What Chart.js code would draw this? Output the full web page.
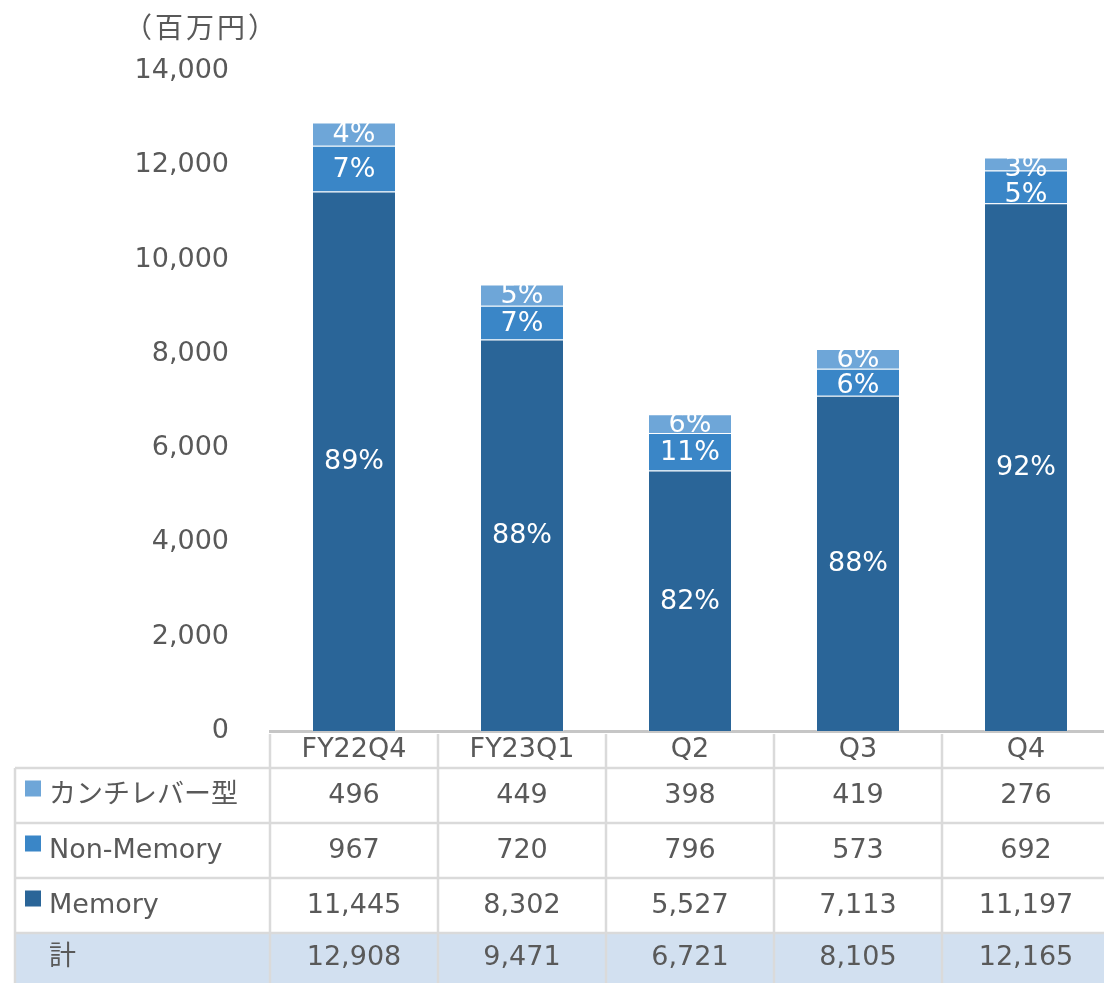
<!DOCTYPE html>
<html>
<head>
<meta charset="utf-8">
<script src="https://cdn.jsdelivr.net/npm/chart.js@4"></script>
<style>
  html, body { margin: 0; padding: 0; background: #fff; overflow: hidden; }
  #wrap { width: 1104px; height: 983px; overflow: hidden; }
</style>
</head>
<body>
<div id="wrap"><canvas id="salesChart" width="1112" height="983"></canvas></div>
<script>
// chart data
const categories = ['FY22Q4', 'FY23Q1', 'Q2', 'Q3', 'Q4'];
const memory = [11445, 8302, 5527, 7113, 11197];
const nonMemory = [967, 720, 796, 573, 692];
const cantilever = [496, 449, 398, 419, 276];
const totals = [12908, 9471, 6721, 8105, 12165];

// share labels printed inside the bars
const memoryPct = [89, 88, 82, 88, 92];
const nonMemoryPct = [7, 7, 11, 6, 5];
const cantileverPct = [4, 5, 6, 6, 3];

const seriesNames = ['カンチレバー型', 'Non-Memory', 'Memory'];
const totalName = '計';
const unitLabel = '（百万円）';
const yMax = 14000;
const yStep = 2000;

const FONT = '"DejaVu Sans", "Noto Sans CJK JP", sans-serif';
const TEXT = '#595959';
const C_MEM = '#2a6598';
const C_NON = '#3a86c7';
const C_CAN = '#6ea6d8';

/**
 * Draws the percentage labels in the middle of each bar segment.
 * Goes from the top segment down; a label is kept inside its segment's
 * top edge, and one that would hit the label above is pushed down.
 */
const segmentLabels = {
    id: 'segmentLabels',
    afterDatasetsDraw(chart) {
        const ctx = chart.ctx;
        ctx.save();
        ctx.font = '27px ' + FONT;
        ctx.fillStyle = '#ffffff';
        ctx.textAlign = 'center';
        ctx.textBaseline = 'middle';
        const prevY = [];
        for (let di = chart.data.datasets.length - 1; di >= 0; di--) {
            const ds = chart.data.datasets[di];
            const meta = chart.getDatasetMeta(di);
            meta.data.forEach((bar, i) => {
                let y = Math.max((bar.y + bar.base) / 2 + 1, bar.y + 11);
                if (prevY[i] !== undefined && y - prevY[i] < 26) {
                    y = prevY[i] + 26;
                }
                prevY[i] = y;
                ctx.fillText(ds.pct[i] + '%', bar.x, y);
            });
        }
        ctx.restore();
    }
};

/**
 * Draws the unit label and the data table under the x axis.
 */
const dataTable = {
    id: 'dataTable',
    afterDraw(chart) {
        const ctx = chart.ctx;
        const xs = chart.scales.x;
        const area = chart.chartArea;
        const colW = xs.getPixelForValue(1) - xs.getPixelForValue(0);
        const tableLeft = 15;
        const colLeft = xs.getPixelForValue(0) - colW / 2;
        const right = chart.width;
        const headTop = area.bottom + 3;
        const rowTop = area.bottom + 37;
        const rowH = 55;
        const bottom = chart.height;

        ctx.save();

        // unit label
        ctx.font = '28px "Noto Sans CJK JP", sans-serif';
        ctx.letterSpacing = '3px';
        ctx.fillStyle = TEXT;
        ctx.textAlign = 'left';
        ctx.textBaseline = 'middle';
        ctx.fillText(unitLabel, 124, 27);
        ctx.letterSpacing = '0px';

        // total row background
        ctx.fillStyle = '#d2e0f0';
        ctx.fillRect(tableLeft, rowTop + rowH * 3, right - tableLeft, bottom - rowTop - rowH * 3);

        // grid lines
        ctx.strokeStyle = '#dadada';
        ctx.lineWidth = 2.5;
        ctx.beginPath();
        for (let r = 0; r < 4; r++) {
            const y = rowTop + rowH * r;
            ctx.moveTo(tableLeft, y);
            ctx.lineTo(right, y);
        }
        ctx.moveTo(tableLeft, rowTop);
        ctx.lineTo(tableLeft, bottom);
        for (let c = 0; c <= categories.length; c++) {
            const x = colLeft + colW * c;
            ctx.moveTo(x, headTop);
            ctx.lineTo(x, bottom);
        }
        ctx.stroke();

        // row labels with colour keys
        const rows = [
            { name: seriesNames[0], color: C_CAN, values: cantilever },
            { name: seriesNames[1], color: C_NON, values: nonMemory },
            { name: seriesNames[2], color: C_MEM, values: memory },
            { name: totalName, color: null, values: totals }
        ];
        rows.forEach((row, r) => {
            const top = rowTop + rowH * r;
            const h = r === 3 ? bottom - top : rowH;
            const cy = top + h / 2;
            if (row.color) {
                ctx.fillStyle = row.color;
                ctx.fillRect(25, cy - 15, 16, 16);
            }
            ctx.fillStyle = TEXT;
            ctx.font = '27px ' + FONT;
            ctx.textAlign = 'left';
            ctx.fillText(row.name, 49, cy);
            ctx.textAlign = 'center';
            row.values.forEach((v, i) => {
                ctx.fillText(v.toLocaleString('en-US'), xs.getPixelForValue(i), cy);
            });
        });
        ctx.restore();
    }
};

const ctx = document.getElementById('salesChart').getContext('2d');

const salesChart = new Chart(ctx, {
    type: 'bar',
    data: {
        labels: categories,
        datasets: [
            { label: seriesNames[2], data: memory, pct: memoryPct, backgroundColor: C_MEM },
            { label: seriesNames[1], data: nonMemory, pct: nonMemoryPct, backgroundColor: C_NON },
            { label: seriesNames[0], data: cantilever, pct: cantileverPct, backgroundColor: C_CAN }
        ]
    },
    options: {
        responsive: false,
        animation: false,
        devicePixelRatio: 1,
        layout: { padding: { top: 71, right: 2, left: 0, bottom: 0 } },
        datasets: {
            bar: {
                barPercentage: 0.5,
                categoryPercentage: 1,
                borderWidth: 1,
                borderColor: 'rgba(255,255,255,0.3)',
                borderSkipped: 'start'
            }
        },
        plugins: {
            legend: { display: false },
            tooltip: { enabled: false }
        },
        scales: {
            x: {
                stacked: true,
                grid: { display: false, drawTicks: false },
                border: { display: true, color: '#c6c6c6', width: 3 },
                ticks: { color: TEXT, font: { family: FONT, size: 27 }, padding: 3, maxRotation: 0 },
                afterFit(scale) { scale.height = 252; }
            },
            y: {
                stacked: true,
                min: 0,
                max: yMax,
                grid: { display: false, drawTicks: false },
                border: { display: false },
                ticks: {
                    stepSize: yStep,
                    color: TEXT,
                    font: { family: FONT, size: 27 },
                    padding: 41,
                    callback: (v) => v.toLocaleString('en-US')
                },
                afterFit(scale) { scale.width = 270; }
            }
        }
    },
    plugins: [segmentLabels, dataTable]
});
</script>
</body>
</html>
